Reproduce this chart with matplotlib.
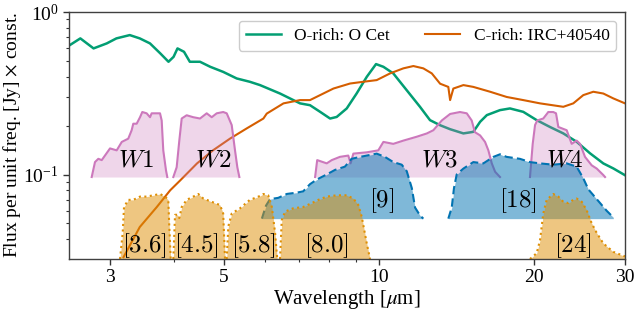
import numpy as np
import matplotlib
matplotlib.use("Agg")
import matplotlib.pyplot as plt
from matplotlib.ticker import FixedLocator, NullFormatter, FixedFormatter

# ---------------- data ----------------
# O-rich: O Cet spectrum (wavelength um, flux)
ocet_wl = [2.51, 2.63, 2.79, 2.96, 3.09, 3.28, 3.43, 3.59, 3.76, 3.90, 3.99, 4.06, 4.18,
           4.29, 4.49, 4.70, 4.98, 5.29, 5.61, 5.87, 6.42, 6.71, 7.02, 7.34, 7.68, 8.03,
           8.27, 8.65, 9.04, 9.46, 9.86, 10.19, 10.65, 11.31, 12.0, 12.55, 13.13, 13.73,
           14.57, 15.23, 15.70, 16.18, 17.16, 17.94, 19.04, 20.22, 21.46, 22.77, 24.17,
           25.66, 27.23, 28.47, 30.0]
ocet_fl = [0.626, 0.688, 0.597, 0.641, 0.688, 0.721, 0.688, 0.641, 0.556, 0.494, 0.530,
           0.597, 0.569, 0.494, 0.494, 0.460, 0.428, 0.390, 0.372, 0.355, 0.315, 0.294,
           0.274, 0.267, 0.243, 0.221, 0.226, 0.255, 0.315, 0.399, 0.478, 0.460, 0.419,
           0.330, 0.261, 0.216, 0.201, 0.190, 0.179, 0.183, 0.211, 0.232, 0.249, 0.255,
           0.243, 0.216, 0.196, 0.179, 0.159, 0.135, 0.117, 0.109, 0.099]

# C-rich: IRC+40540 spectrum
irc_wl = [3.19, 3.43, 3.70, 3.93, 4.11, 4.43, 4.76, 5.13, 5.53, 5.96, 6.05, 6.52, 7.02,
          7.34, 7.68, 8.15, 8.78, 9.31, 9.89, 10.50, 11.14, 11.65, 12.18, 12.65, 13.13,
          13.62, 13.73, 13.93, 14.57, 15.23, 16.42, 17.68, 19.04, 20.52, 22.77, 23.81,
          24.90, 26.04, 27.23, 28.47, 30.0]
irc_fl = [0.031, 0.0475, 0.063, 0.080, 0.092, 0.117, 0.141, 0.166, 0.192, 0.221, 0.237,
          0.274, 0.287, 0.287, 0.308, 0.338, 0.363, 0.372, 0.381, 0.419, 0.450, 0.465,
          0.450, 0.419, 0.362, 0.346, 0.287, 0.338, 0.355, 0.346, 0.323, 0.300, 0.287,
          0.274, 0.261, 0.274, 0.308, 0.323, 0.315, 0.294, 0.274]

# WISE filter responses (normalised)
w1_wl = [2.767, 2.808, 2.85, 2.894, 3.003, 3.094, 3.165, 3.258, 3.308, 3.332, 3.383, 3.434,
         3.469, 3.537, 3.591, 3.617, 3.755, 3.783, 3.81, 3.857, 3.879]
w1_r = [0.0, 0.23, 0.28, 0.26, 0.44, 0.41, 0.54, 0.59, 0.72, 0.82, 0.82, 0.92, 1.0, 0.98,
        0.92, 0.98, 0.98, 0.87, 0.41, 0.10, 0.0]
w2_wl = [3.985, 4.045, 4.093, 4.137, 4.23, 4.357, 4.49, 4.626, 4.731, 4.838, 4.98, 5.059,
         5.173, 5.25, 5.305, 5.353]
w2_r = [0.0, 0.15, 0.56, 0.90, 0.95, 0.92, 0.90, 0.98, 0.92, 0.98, 1.0, 0.98, 0.80, 0.41,
        0.15, 0.0]
w3_wl = [7.51, 7.58, 7.91, 8.09, 8.39, 8.71, 8.80, 8.91, 9.46, 9.96, 10.19, 10.65, 11.14,
         11.83, 12.37, 12.74, 13.23, 13.73, 14.35, 14.79, 15.12, 15.34, 15.70, 16.05,
         16.29, 16.54, 16.79, 17.16]
w3_r = [0.0, 0.26, 0.21, 0.26, 0.31, 0.33, 0.21, 0.36, 0.38, 0.41, 0.54, 0.51, 0.56, 0.62,
        0.67, 0.72, 0.87, 0.97, 1.0, 0.98, 0.87, 0.69, 0.64, 0.54, 0.41, 0.21, 0.08, 0.0]
w4_wl = [19.62, 19.86, 20.07, 20.27, 20.82, 21.2, 21.29, 21.77, 22.04, 22.27, 22.77, 23.12,
         23.64, 24.17, 24.54, 25.09, 25.85, 26.44, 27.23, 27.44]
w4_r = [0.0, 0.51, 0.80, 0.87, 0.90, 0.98, 1.0, 1.0, 0.98, 0.77, 0.74, 0.72, 0.51, 0.56,
        0.51, 0.31, 0.18, 0.13, 0.03, 0.0]

# AKARI filter responses
a9_wl = [5.92, 6.03, 6.14, 6.37, 6.62, 6.92, 7.12, 7.34, 7.56, 7.91, 8.21, 8.58, 8.84,
         9.18, 9.60, 9.89, 10.26, 10.65, 11.06, 11.31, 11.57, 11.74, 12.0, 12.18]
a9_r = [0.0, 0.20, 0.30, 0.32, 0.38, 0.40, 0.42, 0.53, 0.60, 0.68, 0.75, 0.80, 0.92, 0.95,
        0.98, 1.0, 0.95, 0.87, 0.83, 0.73, 0.47, 0.17, 0.05, 0.0]
a18_wl = [13.62, 13.83, 13.97, 14.14, 14.57, 15.23, 15.93, 16.66, 17.16, 17.68, 18.76,
          19.62, 20.52, 21.77, 23.12, 24.17, 24.90, 25.47, 26.44, 27.65, 28.47]
a18_r = [0.0, 0.17, 0.47, 0.68, 0.77, 0.87, 0.85, 0.95, 0.99, 0.95, 0.92, 0.87, 0.85,
         0.83, 0.85, 0.80, 0.62, 0.45, 0.30, 0.12, 0.02]

# Spitzer filter responses
i1_wl = [3.14, 3.178, 3.197, 3.258, 3.332, 3.434, 3.537, 3.643, 3.755, 3.839, 3.896,
         3.914, 3.939]
i1_r = [0.0, 0.40, 0.80, 0.91, 0.91, 0.96, 0.96, 0.98, 1.0, 0.96, 0.91, 0.50, 0.0]
i2_wl = [3.985, 4.016, 4.057, 4.093, 4.137, 4.23, 4.357, 4.456, 4.557, 4.731, 4.91, 4.98,
         5.021]
i2_r = [0.0, 0.68, 0.68, 0.63, 0.80, 0.91, 0.96, 1.0, 0.93, 0.88, 0.83, 0.70, 0.0]
i3_wl = [5.059, 5.095, 5.134, 5.173, 5.369, 5.61, 5.70, 5.87, 5.96, 6.09, 6.19, 6.28, 6.34]
i3_r = [0.0, 0.50, 0.60, 0.70, 0.78, 0.91, 0.93, 0.97, 1.0, 0.98, 0.80, 0.40, 0.0]
i4_wl = [6.42, 6.47, 6.57, 6.81, 7.12, 7.40, 7.62, 7.91, 8.27, 8.65, 8.91, 9.11, 9.25,
         9.46, 9.60]
i4_r = [0.0, 0.60, 0.73, 0.78, 0.80, 0.86, 0.91, 0.96, 0.98, 0.98, 0.93, 0.83, 0.65,
        0.24, 0.0]
m24_wl = [19.62, 20.22, 20.52, 20.82, 21.14, 21.77, 22.27, 22.77, 23.29, 23.81, 24.17,
          24.73, 25.28, 25.85, 26.44, 27.23, 28.47, 30.0]
m24_r = [0.0, 0.09, 0.29, 0.70, 0.91, 1.0, 0.96, 0.88, 0.86, 0.91, 0.93, 0.88, 0.75,
         0.55, 0.40, 0.24, 0.11, 0.04]

wise_labels = ["$W1$", "$W2$", "$W3$", "$W4$"]
wise_label_wl = [3.37, 4.76, 13.07, 22.9]
akari_labels = ["[9]", "[18]"]
akari_label_wl = [10.1, 18.6]
spitzer_labels = ["[3.6]", "[4.5]", "[5.8]", "[8.0]", "[24]"]
spitzer_label_wl = [3.50, 4.41, 5.70, 7.91, 23.78]

xticks = [3, 5, 10, 20, 30]

# ---------------- style ----------------
plt.rcParams['font.family'] = ['Liberation Serif', 'DejaVu Serif']
plt.rcParams['mathtext.fontset'] = 'stix'

GREEN = '#029e73'
VERM = '#d55e00'
PINK = '#cc78bc'
BLUE = '#0173b2'
ORANGE = '#de8f05'

H = 0.40  # filter height in decades
base_wise, base_akari, base_spitzer = 0.0965, 0.0535, 0.0302

fig = plt.figure(figsize=(6.34, 3.18), dpi=100)
ax = fig.add_axes([69/634, 1-259/318, 556/634, 247/318])
ax.set_xscale('log')
ax.set_yscale('log')

ax.plot(ocet_wl, ocet_fl, color=GREEN, lw=1.8, label='O-rich: O Cet', zorder=1)
ax.plot(irc_wl, irc_fl, color=VERM, lw=1.5, label='C-rich: IRC+40540', zorder=1)

def filt(wl, r, base, color, ls, falpha):
    wl = np.asarray(wl); r = np.asarray(r)
    y = base * 10 ** (H * r)
    ax.fill_between(wl, base, y, color=color, alpha=falpha, lw=0, zorder=2)
    ax.plot(wl, y, color=color, ls=ls, lw=1.5, zorder=2)

for wl, r in [(w1_wl, w1_r), (w2_wl, w2_r), (w3_wl, w3_r), (w4_wl, w4_r)]:
    filt(wl, r, base_wise, PINK, '-', 0.3)
for wl, r in [(a9_wl, a9_r), (a18_wl, a18_r)]:
    filt(wl, r, base_akari, BLUE, (0, (4, 2)), 0.5)
for wl, r in [(i1_wl, i1_r), (i2_wl, i2_r), (i3_wl, i3_r), (i4_wl, i4_r), (m24_wl, m24_r)]:
    filt(wl, r, base_spitzer, ORANGE, ':', 0.5)

lab_fs = 18
for t, x in zip(wise_labels, wise_label_wl):
    ax.text(x, 0.122, t, ha='center', va='center', fontsize=lab_fs, math_fontfamily='cm', zorder=5)
for t, x in zip(akari_labels, akari_label_wl):
    ax.text(x, 0.0693, r'$\mathrm{' + t + '}$', ha='center', va='center', fontsize=lab_fs,
            math_fontfamily='cm', zorder=5)
for t, x in zip(spitzer_labels, spitzer_label_wl):
    ax.text(x, 0.0366, r'$\mathrm{' + t + '}$', ha='center', va='center', fontsize=lab_fs,
            math_fontfamily='cm', zorder=5)

ax.set_xlim(2.5, 30)
ax.set_ylim(0.0302, 1.0)
ax.xaxis.set_major_locator(FixedLocator(xticks))
ax.xaxis.set_major_formatter(FixedFormatter([str(v) for v in xticks]))
ax.xaxis.set_minor_formatter(NullFormatter())
ax.tick_params(which='major', length=4, width=1, labelsize=14, color='0.2')
ax.tick_params(which='minor', length=2.5, width=0.8, color='0.2')
for s in ax.spines.values():
    s.set_color('0.25')
    s.set_linewidth(1.0)

ax.set_xlabel(r'Wavelength [$\mu$m]', fontsize=15, labelpad=1)
ax.set_ylabel(r'Flux per unit freq. [Jy] $\times$ const.', fontsize=14)
ax.yaxis.set_label_coords(-0.082, 0.5)

leg = ax.legend(loc='upper right', ncol=2, fontsize=12.5, frameon=True, framealpha=1,
                edgecolor='0.8', fancybox=True, borderaxespad=0.5)

fig.savefig('out.png', dpi=100)
